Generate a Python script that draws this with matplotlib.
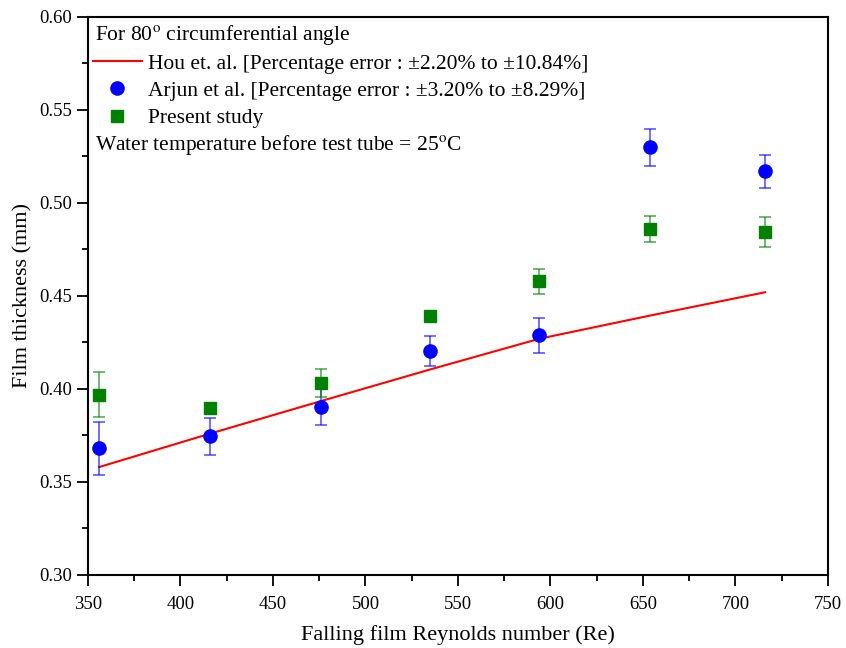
import numpy as np
import matplotlib.pyplot as plt

plt.rcParams['font.family'] = ['Liberation Serif', 'DejaVu Serif']
plt.rcParams['mathtext.fontset'] = 'stix'

# Falling film Reynolds numbers
re_vals = [356, 416, 476, 535, 594, 654, 716]

# Hou et al. correlation
hou = [0.358, 0.376, 0.3935, 0.4105, 0.427, 0.4395, 0.452]

# Arjun et al.
arjun = [0.368, 0.3745, 0.3905, 0.4205, 0.429, 0.530, 0.517]
arjun_err = [0.014, 0.010, 0.010, 0.008, 0.0094, 0.0099, 0.009]

# Present study
present = [0.397, 0.390, 0.403, 0.4395, 0.458, 0.486, 0.4845]
present_err = [0.0122, 0.0, 0.0075, 0.0, 0.0067, 0.0072, 0.0082]

fig = plt.figure(figsize=(8.46, 6.48), dpi=100)
ax = fig.add_axes([0.104, 0.1127, 0.8747, 0.8611])

ax.plot(re_vals, hou, color='red', lw=1.5,
        label='Hou et. al. [Percentage error : \u00b12.20% to \u00b110.84%]')

ax.errorbar(re_vals, arjun, yerr=arjun_err, fmt='none', ecolor=(0, 0, 1, 0.6),
            elinewidth=1.3, capsize=4, capthick=1.3)
ax.errorbar(re_vals, present, yerr=present_err, fmt='none', ecolor=(0, 0.5, 0, 0.6),
            elinewidth=1.3, capsize=4, capthick=1.3)
ax.plot(re_vals, arjun, 'o', color='blue', ms=9.5, ls='none',
        label='Arjun et al. [Percentage error : \u00b13.20% to \u00b18.29%]')
ax.plot(re_vals, present, 's', color='green', ms=8, ls='none',
        label='Present study')

ax.set_xlim(350, 750)
ax.set_ylim(0.30, 0.60)
ax.set_xticks(np.arange(350, 751, 50))
ax.set_xticks(np.arange(375, 750, 50), minor=True)
ax.set_yticks(np.arange(0.30, 0.601, 0.05))
ax.set_yticks(np.arange(0.325, 0.6, 0.05), minor=True)
ax.yaxis.set_major_formatter(plt.FormatStrFormatter('%.2f'))
ax.tick_params(which='major', direction='out', length=8, width=1.3, labelsize=13.5)
ax.tick_params(axis='x', which='major', pad=7)
ax.tick_params(which='minor', direction='out', length=4, width=1.3)
for s in ax.spines.values():
    s.set_linewidth(1.5)

ax.set_xlabel('Falling film Reynolds number (Re)', fontsize=16, labelpad=9)
ax.set_ylabel('Film thickness (mm)', fontsize=16, labelpad=5)

# header / footer lines of the legend block
ax.text(0.010, 0.9588, 'For 80$^{\\mathrm{o}}$ circumferential angle', transform=ax.transAxes,
        fontsize=15.5, va='baseline', ha='left')
ax.legend(loc='center left', bbox_to_anchor=(-0.005, 0.8674), frameon=False, fontsize=15.5,
          handlelength=2.28, handletextpad=0.28, labelspacing=0.33, borderaxespad=0,
          borderpad=0.4)
ax.text(0.010, 0.7616, 'Water temperature before test tube = 25$^{\\mathrm{o}}$C',
        transform=ax.transAxes, fontsize=15.5, va='baseline', ha='left')

fig.savefig('out.png', dpi=100)
